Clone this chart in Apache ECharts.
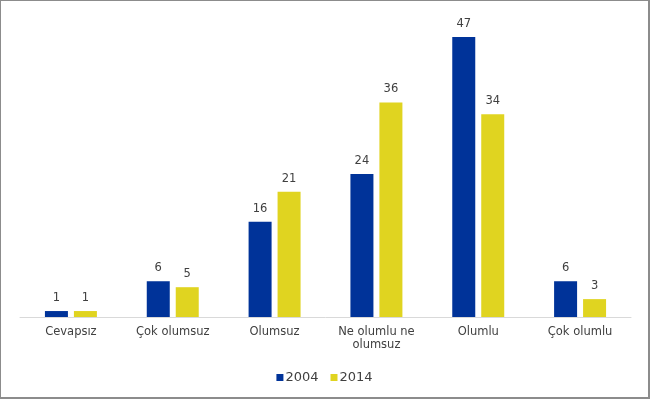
<!DOCTYPE html>
<html><head><meta charset="utf-8">
<script src="https://cdn.jsdelivr.net/npm/echarts@6/dist/echarts.min.js"></script>
<style>
html,body{margin:0;padding:0;background:#fff;}
#c{width:650px;height:399px;box-sizing:border-box;border:1px solid #8c8c8c;border-bottom-width:2px;border-right-width:2px;}
</style></head>
<body><div id="c"></div>
<script>
const categories = ["Cevapsız", "Çok olumsuz", "Olumsuz", "Ne olumlu ne\nolumsuz", "Olumlu", "Çok olumlu"];
const values2004 = [1, 6, 16, 24, 47, 6];
const values2014 = [1, 5, 21, 36, 34, 3];
const seriesNames = ["2004", "2014"];

const font = "DejaVu Sans";
const chart = echarts.init(document.getElementById('c'), null, {renderer: 'canvas'});
const labelStyle = {show: true, position: 'top', distance: 7, color: '#404040', fontFamily: font, fontSize: 11.5};
chart.setOption({
  animation: false,
  textStyle: {fontFamily: font},
  grid: {left: 19, right: 17, top: 18, bottom: 80},
  legend: {
    data: seriesNames, bottom: 8, left: 'center', itemWidth: 7, itemHeight: 7, itemGap: 12,
    icon: 'rect', textStyle: {color: '#404040', fontSize: 13, fontFamily: font, padding: [0, 0, 0, -3]}
  },
  xAxis: {
    type: 'category', data: categories,
    axisLine: {lineStyle: {color: '#d9d9d9'}},
    axisTick: {show: false},
    axisLabel: {color: '#404040', fontSize: 11.5, fontFamily: font, margin: 9, interval: 0, lineHeight: 13}
  },
  yAxis: {type: 'value', min: 0, max: 50, show: false, splitLine: {show: false}},
  series: [
    {name: seriesNames[0], type: 'bar', data: values2004, barWidth: 23, barGap: '26%',
     itemStyle: {color: '#003399'}, label: labelStyle},
    {name: seriesNames[1], type: 'bar', data: values2014, barWidth: 23,
     itemStyle: {color: '#e0d420'}, label: labelStyle}
  ]
});
</script></body></html>
